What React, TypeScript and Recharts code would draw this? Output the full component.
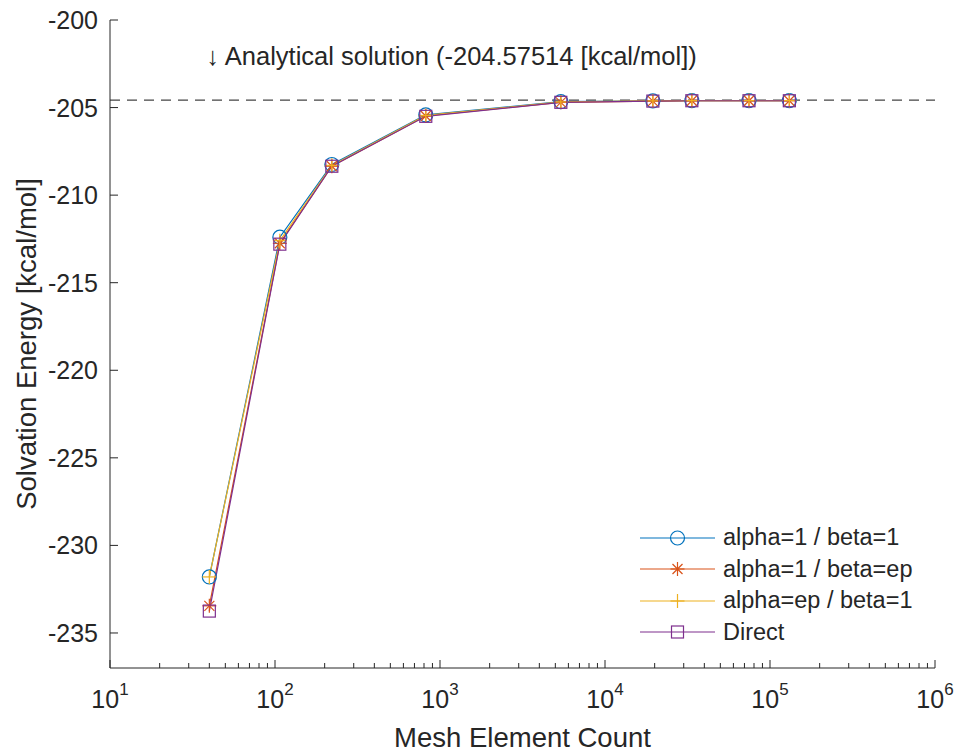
import { Legend, Line, LineChart, ReferenceDot, ReferenceLine, XAxis, YAxis } from "recharts";

const meshCounts = [40, 107, 221, 820, 5400, 19500, 33600, 74600, 131000];
const alphaOneBetaOne = [-231.8, -212.4, -208.25, -205.42, -204.66, -204.62, -204.6, -204.6, -204.6];
const alphaOneBetaEp = [-233.45, -212.75, -208.35, -205.48, -204.7, -204.63, -204.61, -204.61, -204.61];
const alphaEpBetaOne = [-231.8, -212.6, -208.3, -205.45, -204.68, -204.62, -204.6, -204.6, -204.6];
const direct = [-233.75, -212.8, -208.35, -205.5, -204.7, -204.63, -204.61, -204.61, -204.61];

const analyticalSolution = -204.57514;
const majorXTicks = [10, 100, 1000, 10000, 100000, 1000000];
const yTicks = [-235, -230, -225, -220, -215, -210, -205, -200];

const xTicks = majorXTicks.flatMap((t, i) =>
  i === majorXTicks.length - 1 ? [t] : [1, 2, 3, 4, 5, 6, 7, 8, 9].map((m) => m * t)
);

const axisColor = "#262626";
const font = "'Liberation Sans', Arial, Helvetica, sans-serif";

type MarkerKind = "circle" | "star" | "plus" | "square";

const series: { key: string; name: string; color: string; marker: MarkerKind; values: number[] }[] = [
  { key: "a1b1", name: "alpha=1 / beta=1", color: "#0072BD", marker: "circle", values: alphaOneBetaOne },
  { key: "a1bep", name: "alpha=1 / beta=ep", color: "#D95319", marker: "star", values: alphaOneBetaEp },
  { key: "aepb1", name: "alpha=ep / beta=1", color: "#EDB120", marker: "plus", values: alphaEpBetaOne },
  { key: "direct", name: "Direct", color: "#7E2F8E", marker: "square", values: direct },
];

const chartData = meshCounts.map((n, i) => {
  const row: Record<string, number> = { n };
  series.forEach((s) => {
    row[s.key] = s.values[i];
  });
  return row;
});

function Marker({ kind, cx, cy, color }: { kind: MarkerKind; cx: number; cy: number; color: string }) {
  if (kind === "circle") {
    return <circle cx={cx} cy={cy} r={7} fill="none" stroke={color} strokeWidth={1.2} />;
  }
  if (kind === "square") {
    return <rect x={cx - 6} y={cy - 6} width={12} height={12} fill="none" stroke={color} strokeWidth={1.2} />;
  }
  if (kind === "plus") {
    return (
      <g stroke={color} strokeWidth={1.2}>
        <line x1={cx - 7} x2={cx + 7} y1={cy} y2={cy} />
        <line x1={cx} x2={cx} y1={cy - 7} y2={cy + 7} />
      </g>
    );
  }
  const d = 5;
  return (
    <g stroke={color} strokeWidth={1.2}>
      <line x1={cx - 7} x2={cx + 7} y1={cy} y2={cy} />
      <line x1={cx} x2={cx} y1={cy - 7} y2={cy + 7} />
      <line x1={cx - d} x2={cx + d} y1={cy - d} y2={cy + d} />
      <line x1={cx - d} x2={cx + d} y1={cy + d} y2={cy - d} />
    </g>
  );
}

function XTick({ x, y, payload }: { x: number; y: number; payload: { value: number } }) {
  const lg = Math.log10(payload.value);
  const exp = Math.round(lg);
  const major = Math.abs(lg - exp) < 1e-9;
  return (
    <g>
      <line x1={x} x2={x} y1={y} y2={y - (major ? 8 : 5)} stroke={axisColor} />
      {major && (
        <text x={x} y={y + 40} textAnchor="middle" fill={axisColor} fontSize={25} fontFamily={font}>
          10
          <tspan dy={-13} fontSize={17}>
            {exp}
          </tspan>
        </text>
      )}
    </g>
  );
}

function YTick({ x, y, payload }: { x: number; y: number; payload: { value: number } }) {
  return (
    <g>
      <line x1={x} x2={x + 8} y1={y} y2={y} stroke={axisColor} />
      <text x={x - 12} y={y} dy={9} textAnchor="end" fill={axisColor} fontSize={25} fontFamily={font}>
        {payload.value}
      </text>
    </g>
  );
}

function LegendBox() {
  return (
    <div style={{ fontFamily: font, fontSize: 23.5, color: axisColor }}>
      {series.map((s) => (
        <div key={s.key} style={{ display: "flex", alignItems: "center", height: 31.5 }}>
          <svg width={89} height={20}>
            <line x1={6} x2={81} y1={10} y2={10} stroke={s.color} strokeWidth={1.2} />
            <Marker kind={s.marker} cx={43.5} cy={10} color={s.color} />
          </svg>
          <span>{s.name}</span>
        </div>
      ))}
    </div>
  );
}

export default function App() {
  return (
    <div style={{ position: "absolute", left: 0, top: 0, width: 959, height: 755, background: "#fff" }}>
      <LineChart width={959} height={755} data={chartData} margin={{ top: 20, right: 24, bottom: 0, left: 10 }}>
        <XAxis
          dataKey="n"
          type="number"
          scale="log"
          domain={[10, 1000000]}
          allowDataOverflow
          ticks={xTicks}
          interval={0}
          tickSize={0}
          tickMargin={0}
          tickLine={false}
          tick={(p: any) => <XTick {...p} />}
          height={87}
          stroke={axisColor}
          label={{
            content: () => (
              <text x={522.5} y={747} textAnchor="middle" fill={axisColor} fontSize={27.5} fontFamily={font}>
                Mesh Element Count
              </text>
            ),
          }}
        />
        <YAxis
          type="number"
          domain={[-237, -200]}
          allowDataOverflow
          ticks={yTicks}
          interval={0}
          tickSize={0}
          tickMargin={0}
          tickLine={false}
          tick={(p: any) => <YTick {...p} />}
          width={100}
          stroke={axisColor}
          label={{
            content: () => (
              <text
                x={36}
                y={344}
                transform="rotate(-90 36 344)"
                textAnchor="middle"
                fill={axisColor}
                fontSize={27.5}
                fontFamily={font}
              >
                Solvation Energy [kcal/mol]
              </text>
            ),
          }}
        />
        <ReferenceLine y={analyticalSolution} stroke="#444" strokeDasharray="10 7" strokeWidth={1.2} />
        <ReferenceDot
          x={40}
          y={-202}
          r={0}
          shape={(p: any) => (
            <text x={p.cx - 3} y={p.cy} dy={10} fill={axisColor} fontSize={25.5} fontFamily={font}>
              ↓ Analytical solution ({analyticalSolution} [kcal/mol])
            </text>
          )}
        />
        {series.map((s) => (
          <Line
            key={s.key}
            dataKey={s.key}
            name={s.name}
            stroke={s.color}
            strokeWidth={1.2}
            isAnimationActive={false}
            dot={(p: any) => <Marker key={p.index} kind={s.marker} cx={p.cx} cy={p.cy} color={s.color} />}
            activeDot={false}
          />
        ))}
        <Legend
          layout="vertical"
          align="center"
          verticalAlign="middle"
          content={() => <LegendBox />}
          wrapperStyle={{ left: 634, top: 522, width: 320, height: 130 }}
        />
      </LineChart>
    </div>
  );
}
